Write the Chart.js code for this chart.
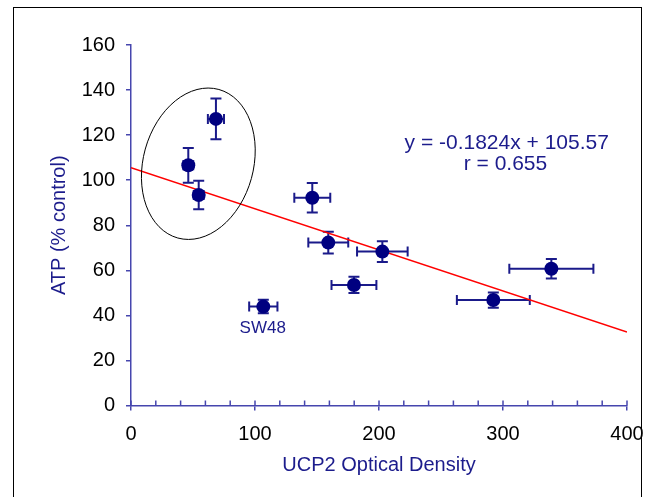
<!DOCTYPE html>
<html>
<head>
<meta charset="utf-8">
<script src="https://cdn.jsdelivr.net/npm/chart.js@4.4.0/dist/chart.umd.min.js"></script>
<style>
  html, body { margin: 0; padding: 0; background: #fff; }
  #wrap { position: relative; width: 650px; height: 497px; overflow: hidden; }
  #frame { position: absolute; left: 13px; top: 7px; width: 629px; height: 520px; border: 1.5px solid #000; box-sizing: border-box; pointer-events: none; }
  canvas { position: absolute; left: 0; top: 0; }
</style>
</head>
<body>
<div id="wrap">
  <canvas id="chart" width="650" height="497"></canvas>
  <div id="frame"></div>
</div>
<script>
// UCP2 optical density vs ATP
const ucp2 = [68.5, 46.2, 54.6, 146.2, 159.1, 202.7, 179.8, 339, 292.2, 106.7];
const atp = [127.2, 106.6, 93.4, 92.2, 72.3, 68.3, 53.5, 60.7, 46.8, 43.9];
const ucp2Err = [6.5, 4, 4, 14.5, 16.1, 20.4, 18.1, 33.9, 29.4, 11.4];
const atpErr = [9, 7.7, 6.3, 6.5, 4.8, 4.6, 3.6, 4.3, 3.4, 3];

// regression line end points (y = -0.1824x + 105.57)
const trendX = [0, 400];
const trendY = [105.57, 32.61];

const xTicks = [0, 100, 200, 300, 400];
const yTicks = [0, 20, 40, 60, 80, 100, 120, 140, 160];

const NAVY = '#000080';
const AXIS = '#4646ae';
const TEXT_BLUE = '#1c1c8c';
const FONT = '"Liberation Sans", Arial, sans-serif';

const errorBars = {
    id: 'errorBars',
    beforeDatasetsDraw(chart) {
        const ctx = chart.ctx;
        const xs = chart.scales.x, ys = chart.scales.y;
        ctx.save();
        ctx.strokeStyle = '#1a1a8a';
        ctx.lineWidth = 2;
        ucp2.forEach((xv, i) => {
            const px = xs.getPixelForValue(xv);
            const py = ys.getPixelForValue(atp[i]);
            const x1 = xs.getPixelForValue(xv - ucp2Err[i]);
            const x2 = xs.getPixelForValue(xv + ucp2Err[i]);
            const y1 = ys.getPixelForValue(atp[i] + atpErr[i]);
            const y2 = ys.getPixelForValue(atp[i] - atpErr[i]);
            ctx.beginPath();
            ctx.moveTo(x1, py); ctx.lineTo(x2, py);
            ctx.moveTo(x1, py - 5); ctx.lineTo(x1, py + 5);
            ctx.moveTo(x2, py - 5); ctx.lineTo(x2, py + 5);
            ctx.moveTo(px, y1); ctx.lineTo(px, y2);
            ctx.moveTo(px - 5.5, y1); ctx.lineTo(px + 5.5, y1);
            ctx.moveTo(px - 5.5, y2); ctx.lineTo(px + 5.5, y2);
            ctx.stroke();
        });
        ctx.restore();
    }
};

const extras = {
    id: 'extras',
    afterDraw(chart) {
        const ctx = chart.ctx;
        const xs = chart.scales.x, ys = chart.scales.y;
        ctx.save();
        // minor ticks pointing up from the x axis
        ctx.strokeStyle = AXIS;
        ctx.lineWidth = 1.5;
        const base = ys.getPixelForValue(0);
        for (let v = 0; v <= 400; v += 20) {
            const px = xs.getPixelForValue(v);
            ctx.beginPath();
            ctx.moveTo(px, base);
            ctx.lineTo(px, base - 5);
            ctx.stroke();
        }
        // circled group
        const cx = xs.getPixelForValue(54.3), cy = ys.getPixelForValue(107.3);
        const rx = xs.getPixelForValue(54.3 + 44.4) - cx;
        const ry = cy - ys.getPixelForValue(107.3 + 34.2);
        ctx.strokeStyle = '#000';
        ctx.lineWidth = 1;
        ctx.beginPath();
        ctx.ellipse(cx, cy, rx, ry, 0.27, 0, Math.PI * 2);
        ctx.stroke();
        // text labels
        ctx.fillStyle = TEXT_BLUE;
        ctx.textAlign = 'center';
        ctx.textBaseline = 'middle';
        ctx.font = '21px ' + FONT;
        ctx.fillText('y = -0.1824x + 105.57', xs.getPixelForValue(303), ys.getPixelForValue(116.2));
        ctx.fillText('r = 0.655', xs.getPixelForValue(302), ys.getPixelForValue(106.9));
        ctx.font = '17px ' + FONT;
        ctx.fillText('SW48', xs.getPixelForValue(106.2), ys.getPixelForValue(34.3));
        ctx.restore();
    }
};

new Chart(document.getElementById('chart'), {
    type: 'scatter',
    data: {
        datasets: [
            {
                type: 'line',
                data: trendX.map((x, i) => ({ x: x, y: trendY[i] })),
                borderColor: '#ff0000',
                borderWidth: 1.5,
                pointRadius: 0,
                fill: false,
                order: 2
            },
            {
                data: ucp2.map((x, i) => ({ x: x, y: atp[i] })),
                backgroundColor: NAVY,
                borderColor: NAVY,
                borderWidth: 0,
                pointRadius: 7,
                order: 1
            }
        ]
    },
    options: {
        responsive: false,
        animation: false,
        layout: { padding: { left: 0, top: 45, right: 23, bottom: 0 } },
        plugins: { legend: { display: false }, tooltip: { enabled: false } },
        scales: {
            x: {
                type: 'linear',
                min: 0, max: 400,
                afterBuildTicks: (s) => { s.ticks = xTicks.map(v => ({ value: v })); },
                afterFit: (s) => { s.height = 91.5; s.paddingLeft = 0; s.paddingRight = 0; },
                ticks: { color: '#000', font: { size: 20, family: FONT }, padding: 12, maxRotation: 0 },
                grid: { drawOnChartArea: false, color: AXIS, tickLength: 5, lineWidth: 1.5 },
                border: { color: AXIS, width: 1.5 },
                title: { display: true, text: 'UCP2 Optical Density', color: TEXT_BLUE, font: { size: 20, family: FONT }, padding: { top: 0, bottom: 20 } }
            },
            y: {
                type: 'linear',
                min: 0, max: 160,
                afterBuildTicks: (s) => { s.ticks = yTicks.map(v => ({ value: v })); },
                afterFit: (s) => { s.width = 131; s.paddingTop = 0; s.paddingBottom = 0; },
                ticks: { color: '#000', font: { size: 20, family: FONT }, padding: 11 },
                grid: { drawOnChartArea: false, color: AXIS, tickLength: 5, lineWidth: 1.5 },
                border: { color: AXIS, width: 1.5 },
                title: { display: true, text: 'ATP (% control)', color: TEXT_BLUE, font: { size: 20, family: FONT }, padding: { top: 47, bottom: 0 } }
            }
        }
    },
    plugins: [errorBars, extras]
});
</script>
</body>
</html>
